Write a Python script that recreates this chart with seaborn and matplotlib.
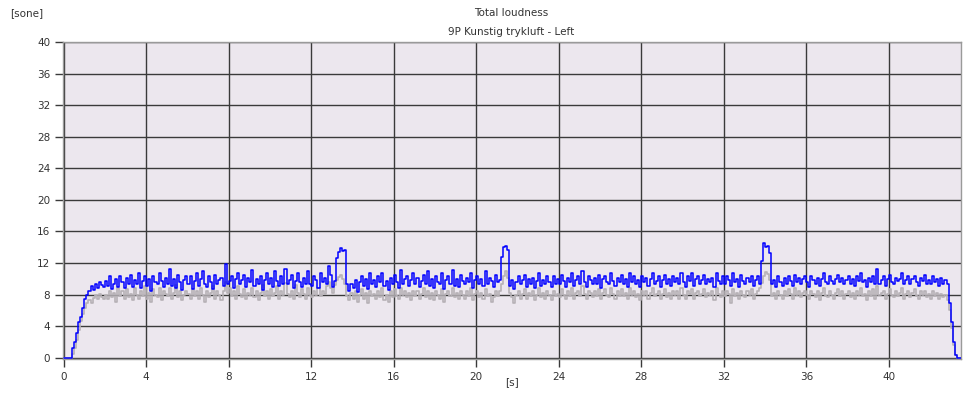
import numpy as np
import pandas as pd
import matplotlib
matplotlib.use("Agg")
import matplotlib.pyplot as plt
import seaborn as sns

# ---- data (sampled every 0.1 s) ----
dt = 0.1
blue_vals = [
    0, 0, 0, 0, 1.2, 2.0, 3.2, 4.5, 5.2, 6.3,
    7.4, 7.9, 8.4, 9.1, 8.6, 9.3, 8.9, 9.6, 9.2, 9.0,
    9.7, 9.1, 10.3, 8.7, 9.4, 10.0, 9.0, 10.4, 9.6, 8.9,
    10.1, 9.3, 10.5, 9.0, 9.8, 9.4, 10.7, 8.9, 9.7, 10.3,
    9.1, 10.0, 8.4, 10.4, 9.6, 9.3, 10.8, 9.7, 9.0, 10.1,
    9.4, 11.2, 9.1, 10.0, 8.9, 10.5, 9.6, 8.6, 9.8, 10.3,
    9.3, 10.4, 8.7, 9.7, 10.7, 9.1, 10.0, 11.0, 9.4, 9.0,
    10.3, 9.6, 8.7, 10.5, 9.3, 9.8, 10.1, 9.1, 11.9, 9.4,
    9.7, 10.4, 8.9, 10.0, 10.8, 9.3, 9.8, 10.5, 9.0, 10.1,
    9.6, 11.1, 9.1, 10.0, 9.4, 10.4, 8.6, 9.8, 10.7, 9.3,
    10.1, 9.0, 11.0, 9.7, 9.1, 10.3, 9.4, 11.3, 9.3, 9.8,
    10.5, 8.9, 9.7, 10.8, 9.6, 9.0, 10.1, 9.3, 11.0, 9.4,
    9.1, 10.4, 9.8, 8.9, 10.7, 9.6, 10.1, 9.3, 11.6, 10.5,
    9.0, 9.7, 12.6, 13.4, 13.9, 13.5, 13.6, 9.3, 8.4, 9.4,
    8.9, 9.8, 8.3, 9.6, 10.4, 9.1, 10.0, 8.7, 10.7, 9.4,
    9.8, 9.0, 10.3, 9.6, 10.8, 9.1, 9.7, 8.6, 10.1, 9.3,
    10.5, 9.6, 8.9, 11.1, 9.4, 10.0, 10.4, 9.1, 9.8, 10.8,
    9.3, 10.1, 9.0, 9.7, 10.5, 9.4, 11.0, 9.1, 10.0, 8.9,
    10.4, 9.6, 9.3, 10.7, 8.7, 9.8, 10.3, 9.4, 11.1, 9.1,
    10.0, 9.0, 10.5, 9.7, 9.3, 10.1, 9.6, 10.8, 8.9, 9.8,
    10.4, 9.4, 10.0, 9.1, 11.0, 9.3, 10.1, 9.7, 9.0, 10.5,
    9.6, 9.8, 12.8, 14.0, 14.2, 13.6, 9.1, 9.8, 8.7, 9.6,
    10.3, 9.3, 9.8, 10.5, 9.0, 10.0, 9.4, 10.1, 8.9, 9.7,
    10.7, 9.1, 9.8, 9.4, 10.3, 9.6, 9.0, 10.4, 9.3, 10.0,
    9.4, 10.5, 9.7, 9.0, 10.1, 9.6, 10.8, 9.1, 9.8, 10.3,
    9.3, 11.0, 9.6, 9.0, 10.4, 9.8, 9.3, 10.1, 9.4, 10.5,
    8.9, 10.0, 10.4, 9.6, 9.3, 10.7, 9.7, 9.1, 10.1, 9.6,
    10.5, 9.4, 10.0, 9.0, 10.8, 9.6, 10.3, 9.3, 9.8, 9.0,
    10.4, 9.6, 10.1, 9.1, 10.0, 10.7, 9.4, 9.7, 10.3, 9.0,
    9.8, 10.5, 9.4, 10.0, 9.1, 10.4, 9.6, 10.1, 9.3, 10.8,
    9.6, 9.0, 10.3, 9.7, 10.7, 9.1, 10.0, 10.4, 9.4, 9.8,
    10.5, 9.3, 10.0, 9.6, 10.1, 9.0, 10.8, 9.7, 9.3, 10.3,
    9.4, 10.4, 9.8, 9.1, 10.7, 9.6, 10.0, 9.0, 10.5, 9.7,
    9.3, 10.1, 9.6, 10.4, 9.1, 9.8, 10.3, 9.4, 12.2, 14.6,
    14.0, 14.1, 13.3, 9.3, 9.8, 9.0, 10.3, 9.6, 9.1, 10.1,
    9.4, 10.4, 9.7, 9.1, 10.5, 9.6, 10.1, 9.3, 10.0, 10.3,
    9.6, 9.0, 10.4, 9.8, 9.4, 10.1, 9.1, 10.0, 10.7, 9.6,
    9.3, 10.3, 9.7, 9.4, 10.0, 10.5, 9.6, 10.1, 9.3, 9.8,
    10.4, 9.4, 10.0, 9.1, 10.3, 9.7, 10.7, 9.6, 9.8, 9.0,
    10.1, 9.6, 10.4, 9.3, 11.2, 9.4, 9.8, 10.3, 9.1, 10.0,
    10.5, 9.6, 9.3, 10.1, 9.7, 10.0, 10.8, 9.3, 9.8, 10.3,
    9.4, 10.0, 10.4, 9.6, 9.1, 10.1, 9.7, 10.5, 9.4, 9.8,
    9.3, 10.3, 9.6, 10.0, 9.1, 10.1, 9.4, 9.8, 9.3, 7.0,
    4.5, 2.0, 0.3, 0, 0, 0,
]
gray_vals = [
    0, 0, 0, 0, 0.5, 1.2, 2.3, 3.5, 4.6, 5.5,
    6.3, 6.9, 7.3, 7.0, 7.6, 7.9, 7.4, 8.1, 7.7, 7.5,
    8.0, 7.4, 8.5, 7.7, 8.2, 7.1, 8.8, 7.8, 8.4, 7.5,
    8.7, 7.7, 8.1, 7.3, 8.9, 8.0, 7.4, 8.4, 7.8, 9.1,
    7.5, 8.2, 7.1, 8.7, 8.0, 7.7, 8.8, 7.3, 8.4, 8.1,
    7.8, 8.8, 7.4, 8.2, 9.2, 7.7, 8.5, 7.3, 8.0, 8.4,
    8.1, 7.5, 8.7, 7.8, 8.4, 7.4, 8.9, 8.0, 7.1, 8.5,
    7.7, 8.2, 9.1, 7.4, 8.5, 8.0, 7.3, 8.4, 9.6, 8.2,
    8.8, 7.8, 8.4, 7.4, 9.1, 8.1, 7.7, 8.7, 7.5, 8.2,
    8.0, 8.9, 7.7, 8.5, 7.3, 8.2, 9.2, 7.8, 8.4, 7.5,
    8.7, 7.8, 8.2, 9.1, 7.4, 8.4, 8.0, 9.5, 8.1, 7.7,
    8.5, 7.5, 9.2, 8.2, 7.7, 8.7, 8.1, 7.4, 8.9, 8.0,
    7.7, 8.4, 8.0, 8.8, 7.8, 8.5, 8.1, 9.1, 9.6, 8.8,
    8.2, 9.2, 9.8, 10.2, 10.5, 10.0, 9.3, 7.8, 7.3, 8.2,
    7.4, 8.4, 7.1, 8.0, 8.7, 7.5, 8.2, 7.0, 8.5, 7.8,
    8.1, 7.4, 8.5, 7.7, 8.8, 7.3, 8.0, 7.1, 8.4, 7.7,
    8.7, 7.8, 7.4, 8.9, 8.0, 8.4, 7.7, 8.2, 7.3, 8.5,
    7.8, 8.4, 7.4, 8.1, 8.8, 7.7, 8.5, 7.5, 8.2, 7.3,
    8.5, 8.0, 7.5, 8.7, 7.1, 8.1, 8.4, 7.8, 8.9, 7.7,
    8.2, 7.4, 8.5, 8.0, 7.5, 8.4, 7.8, 8.8, 7.3, 8.1,
    8.5, 7.7, 8.2, 7.4, 8.7, 7.8, 8.1, 7.1, 7.7, 8.4,
    7.8, 8.5, 9.4, 10.4, 11.0, 10.1, 8.2, 7.7, 7.0, 8.0,
    8.4, 7.5, 8.1, 8.7, 7.4, 8.2, 7.8, 8.5, 7.3, 8.0,
    8.8, 7.7, 8.2, 7.5, 8.5, 8.0, 7.3, 8.4, 7.8, 8.1,
    7.7, 8.7, 8.0, 7.4, 8.4, 7.8, 8.9, 7.5, 8.2, 8.5,
    7.8, 9.1, 8.1, 7.4, 8.5, 8.2, 7.7, 8.4, 7.8, 8.7,
    7.4, 8.2, 8.7, 8.0, 7.7, 8.8, 8.1, 7.5, 8.4, 7.8,
    8.7, 7.8, 8.2, 7.4, 8.9, 8.0, 8.4, 7.7, 8.1, 7.3,
    8.5, 8.0, 8.4, 7.5, 8.2, 8.8, 7.8, 8.1, 8.5, 7.4,
    8.1, 8.7, 7.7, 8.2, 7.4, 8.5, 8.0, 8.4, 7.5, 8.8,
    8.0, 7.4, 8.4, 8.1, 8.7, 7.5, 8.2, 8.5, 7.8, 8.1,
    8.7, 7.7, 8.2, 8.0, 8.4, 7.3, 8.8, 8.1, 7.7, 8.4,
    7.8, 8.5, 8.1, 7.0, 8.7, 7.8, 8.2, 7.4, 8.5, 8.0,
    7.7, 8.4, 8.0, 8.7, 7.5, 8.1, 8.5, 8.8, 9.5, 10.4,
    10.9, 10.6, 9.8, 7.8, 8.2, 7.4, 8.5, 8.0, 7.5, 8.4,
    7.8, 8.7, 8.1, 7.5, 8.8, 8.0, 8.4, 7.7, 8.2, 8.5,
    8.0, 7.4, 8.5, 8.1, 7.7, 8.4, 7.3, 8.2, 8.8, 7.8,
    7.7, 8.5, 8.0, 7.5, 8.2, 8.7, 7.8, 8.4, 7.4, 8.1,
    8.5, 7.7, 8.2, 7.4, 8.4, 8.0, 8.8, 7.8, 8.1, 7.3,
    8.4, 7.8, 8.7, 7.5, 9.1, 8.0, 8.2, 8.5, 7.4, 8.1,
    8.7, 8.0, 7.7, 8.4, 7.8, 8.2, 8.9, 7.5, 8.1, 8.5,
    7.7, 8.2, 8.7, 7.8, 7.4, 8.4, 8.0, 8.5, 7.7, 8.1,
    7.5, 8.4, 7.8, 8.2, 7.4, 8.1, 7.7, 8.0, 7.3, 6.0,
    3.8, 1.6, 0.3, 0, 0, 0,
]
x_ticks = [0, 4, 8, 12, 16, 20, 24, 28, 32, 36, 40]
y_ticks = [0, 4, 8, 12, 16, 20, 24, 28, 32, 36, 40]

t = np.arange(len(blue_vals)) * dt
df = pd.DataFrame({"t": t, "blue": blue_vals, "gray": gray_vals})

sns.set_theme(style="white")
plt.rcParams["font.family"] = ["DejaVu Sans"]

W, H = 968, 399
fig = plt.figure(figsize=(W / 100, H / 100), dpi=100)
ax = fig.add_axes([62.7 / W, (H - 359) / H, (961 - 62.7) / W, (359 - 42) / H])
ax.set_facecolor("#ECE7EE")

sns.lineplot(data=df, x="t", y="gray", ax=ax, color="#B6B1B6", linewidth=1.2,
             drawstyle="steps-post", zorder=3)
sns.lineplot(data=df, x="t", y="blue", ax=ax, color="#0000FF", linewidth=1.1,
             drawstyle="steps-post", zorder=4)

ax.set_xlim(-0.05, 43.5)
ax.set_ylim(-0.15, 40)
ax.set_xticks(x_ticks)
ax.set_yticks(y_ticks)
ax.grid(True, color="#3A3A3A", linewidth=1.0, linestyle="-", zorder=1)
ax.set_axisbelow(True)
for s in ax.spines.values():
    s.set_color("#9A9A9A")
    s.set_linestyle((0, (1, 1)))
    s.set_linewidth(1.0)
ax.tick_params(axis="both", which="both", length=6, width=1, color="#3A3A3A",
               labelsize=7.5, labelcolor="#333333", pad=3,
               bottom=True, left=True)
ax.set_xlabel("")
ax.set_ylabel("")

fig.text(10 / W, 1 - 13 / H, "[sone]", fontsize=7.5, color="#333333", va="center", ha="left")
fig.text(511 / W, 1 - 13 / H, "Total loudness", fontsize=7.5, color="#333333", va="center", ha="center")
fig.text(511 / W, 1 - 32 / H, "9P Kunstig trykluft - Left", fontsize=7.5, color="#333333", va="center", ha="center")
fig.text(512 / W, 1 - 382 / H, "[s]", fontsize=7.5, color="#333333", va="center", ha="center")

fig.savefig("out.png", dpi=100, facecolor="white")
